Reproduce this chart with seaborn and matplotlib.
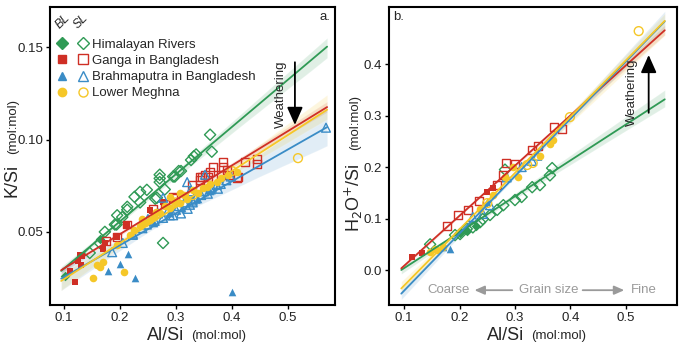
import numpy as np
import pandas as pd
import matplotlib
matplotlib.use("Agg")
import matplotlib.pyplot as plt
from matplotlib.lines import Line2D
from matplotlib.legend_handler import HandlerTuple
import seaborn as sns

# ---- panel a : K/Si vs Al/Si ----
him_bl_a_x = [0.102, 0.165]
him_bl_a_y = [0.026, 0.046]
him_sl_a_x = [0.146, 0.164, 0.173, 0.191, 0.194, 0.195, 0.204, 0.213, 0.213, 0.226, 0.236, 0.236, 0.248,
              0.263, 0.266, 0.271, 0.271, 0.271, 0.280, 0.277, 0.295, 0.298, 0.305, 0.309, 0.327, 0.332,
              0.336, 0.361, 0.364]
him_sl_a_y = [0.0386, 0.044, 0.050, 0.054, 0.054, 0.059, 0.058, 0.062, 0.0636, 0.069, 0.066, 0.0717, 0.0728,
              0.068, 0.0685, 0.077, 0.079, 0.081, 0.073, 0.044, 0.080, 0.080, 0.083, 0.083, 0.089, 0.091,
              0.092, 0.1027, 0.0935]

gan_bl_a_x = [0.111, 0.120, 0.125, 0.129, 0.130, 0.132, 0.170, 0.173, 0.195, 0.213, 0.254, 0.277]
gan_bl_a_y = [0.029, 0.023, 0.034, 0.0375, 0.032, 0.037, 0.041, 0.044, 0.047, 0.054, 0.062, 0.066]
gan_sl_a_x = [0.175, 0.194, 0.213, 0.259, 0.280, 0.295, 0.298, 0.329, 0.343, 0.343, 0.346, 0.352, 0.357,
              0.361, 0.366, 0.380, 0.384, 0.384, 0.391, 0.394, 0.409, 0.411, 0.423, 0.445, 0.445]
gan_sl_a_y = [0.045, 0.047, 0.054, 0.0625, 0.065, 0.069, 0.0685, 0.0755, 0.078, 0.080, 0.080, 0.081, 0.080,
              0.0826, 0.085, 0.081, 0.088, 0.0853, 0.0837, 0.081, 0.079, 0.080, 0.088, 0.0897, 0.087]

bra_bl_a_x = [0.179, 0.200, 0.214, 0.226, 0.400, 0.260, 0.290, 0.310, 0.340, 0.360]
bra_bl_a_y = [0.0288, 0.0325, 0.038, 0.025, 0.0174, 0.055, 0.060, 0.063, 0.068, 0.072]
bra_sl_a_x = [0.186, 0.205, 0.223, 0.223, 0.248, 0.277, 0.277, 0.289, 0.295, 0.309, 0.320, 0.321, 0.325,
              0.325, 0.330, 0.330, 0.352, 0.357, 0.364, 0.373, 0.375, 0.568, 0.240, 0.250, 0.262,
              0.268, 0.285, 0.300, 0.305, 0.315, 0.335, 0.345, 0.350, 0.362, 0.380, 0.390, 0.398]
bra_sl_a_y = [0.039, 0.044, 0.0484, 0.049, 0.054, 0.0576, 0.0685, 0.059, 0.059, 0.060, 0.077, 0.0625, 0.0647,
              0.072, 0.066, 0.067, 0.081, 0.0707, 0.074, 0.0755, 0.0734, 0.1065, 0.052, 0.057, 0.056,
              0.060, 0.061, 0.062, 0.064, 0.066, 0.068, 0.070, 0.072, 0.073, 0.076, 0.078, 0.080]

meg_bl_a_x = [0.152, 0.159, 0.164, 0.170, 0.207, 0.195, 0.218, 0.236, 0.254, 0.271, 0.289, 0.289, 0.307,
              0.307, 0.330, 0.355, 0.373, 0.393, 0.409, 0.240, 0.260, 0.280, 0.320, 0.340, 0.360, 0.380,
              0.225, 0.245, 0.265, 0.298, 0.315, 0.348]
meg_bl_a_y = [0.025, 0.032, 0.031, 0.0337, 0.028, 0.043, 0.0484, 0.053, 0.0565, 0.0603, 0.063, 0.069, 0.0658,
              0.071, 0.0728, 0.0745, 0.077, 0.081, 0.0826, 0.057, 0.058, 0.064, 0.068, 0.071, 0.076, 0.079,
              0.051, 0.055, 0.061, 0.066, 0.070, 0.074]
meg_sl_a_x = [0.518, 0.300, 0.330, 0.400]
meg_sl_a_y = [0.090, 0.066, 0.070, 0.083]

# ---- panel b : H2O+/Si vs Al/Si ----
him_bl_b_x = [0.200, 0.213, 0.230]
him_bl_b_y = [0.072, 0.076, 0.085]
him_sl_b_x = [0.147, 0.192, 0.201, 0.213, 0.224, 0.237, 0.242, 0.255, 0.268, 0.279, 0.300, 0.312, 0.331,
              0.345, 0.363, 0.367, 0.282]
him_sl_b_y = [0.050, 0.068, 0.070, 0.080, 0.083, 0.093, 0.099, 0.107, 0.117, 0.126, 0.136, 0.142, 0.161,
              0.165, 0.184, 0.198, 0.195]

gan_bl_b_x = [0.114, 0.132, 0.250, 0.260]
gan_bl_b_y = [0.025, 0.033, 0.151, 0.159]
gan_sl_b_x = [0.177, 0.197, 0.215, 0.235, 0.268, 0.278, 0.284, 0.300, 0.331, 0.341, 0.370, 0.385]
gan_sl_b_y = [0.0854, 0.107, 0.1165, 0.135, 0.165, 0.184, 0.208, 0.206, 0.233, 0.241, 0.278, 0.274]

bra_bl_b_x = [0.183, 0.250, 0.170]
bra_bl_b_y = [0.041, 0.132, 0.045]
bra_sl_b_x = [0.224, 0.242, 0.255, 0.285, 0.312, 0.331, 0.340]
bra_sl_b_y = [0.103, 0.109, 0.126, 0.180, 0.200, 0.212, 0.222]

meg_bl_b_x = [0.147, 0.155, 0.159, 0.170, 0.237, 0.261, 0.282, 0.297, 0.363, 0.369, 0.305, 0.345]
meg_bl_b_y = [0.035, 0.040, 0.039, 0.045, 0.118, 0.145, 0.180, 0.200, 0.245, 0.252, 0.180, 0.222]
meg_sl_b_x = [0.322, 0.332, 0.399, 0.523, 0.250]
meg_sl_b_y = [0.204, 0.208, 0.297, 0.464, 0.130]

labels = ["Himalayan Rivers", "Ganga in Bangladesh", "Brahmaputra in Bangladesh", "Lower Meghna"]
colors = ["#2f9a55", "#cf2f25", "#3a8cc6", "#f5c728"]
markers = ["D", "s", "^", "o"]
fit_range = (0.095, 0.57)

sns.set_theme(style="ticks")
plt.rcParams['font.family'] = ['Liberation Sans', 'DejaVu Sans']

fig = plt.figure(figsize=(6.79, 3.44), dpi=100)
ax1 = fig.add_axes([0.0736, 0.113, 0.4197, 0.867])
ax2 = fig.add_axes([0.573, 0.113, 0.424, 0.867])

panel_a = [(him_bl_a_x, him_bl_a_y, him_sl_a_x, him_sl_a_y),
           (gan_bl_a_x, gan_bl_a_y, gan_sl_a_x, gan_sl_a_y),
           (bra_bl_a_x, bra_bl_a_y, bra_sl_a_x, bra_sl_a_y),
           (meg_bl_a_x, meg_bl_a_y, meg_sl_a_x, meg_sl_a_y)]
panel_b = [(him_bl_b_x, him_bl_b_y, him_sl_b_x, him_sl_b_y),
           (gan_bl_b_x, gan_bl_b_y, gan_sl_b_x, gan_sl_b_y),
           (bra_bl_b_x, bra_bl_b_y, bra_sl_b_x, bra_sl_b_y),
           (meg_bl_b_x, meg_bl_b_y, meg_sl_b_x, meg_sl_b_y)]

sizes = {"D": 24, "s": 24, "^": 30, "o": 30}


def draw_panel(ax, groups, xlim, ylim):
    # regression lines span the same Al/Si range in both panels
    ax.set_xlim(fit_range)
    for (bx, by, sx, sy), c, m in zip(groups, colors, markers):
        ax.scatter(bx, by, marker=m, s=sizes[m], color=c, linewidths=0, zorder=2)
        ax.scatter(sx, sy, marker=m, s=sizes[m] * 1.35, facecolors="none", edgecolors=c,
                   linewidths=1.0, zorder=2)
    for (bx, by, sx, sy), c in zip(groups, colors):
        df = pd.DataFrame({"x": bx + sx, "y": by + sy})
        sns.regplot(data=df, x="x", y="y", scatter=False, ci=75, seed=3, truncate=False,
                    color=c, line_kws={"lw": 1.3, "zorder": 3}, ax=ax)
    ax.set_xlim(xlim)
    ax.set_ylim(ylim)
    ax.set_xlabel("")
    ax.set_ylabel("")
    ax.set_xticks([0.1, 0.2, 0.3, 0.4, 0.5])
    ax.tick_params(labelsize=9.5, length=3, width=1, pad=2, color="black", labelcolor="#222222")
    for sp in ax.spines.values():
        sp.set_linewidth(1.5)
        sp.set_color("black")
        sp.set_visible(True)


draw_panel(ax1, panel_a, (0.075, 0.584), (0.0103, 0.172))
ax1.set_yticks([0.05, 0.10, 0.15])
ax1.set_yticklabels(["0.05", "0.10", "0.15"])
draw_panel(ax2, panel_b, (0.073, 0.592), (-0.068, 0.511))
ax2.set_yticks([0.0, 0.1, 0.2, 0.3, 0.4])

# legend with filled (BL) and open (SL) markers
handles = []
for c, m in zip(colors, markers):
    filled = Line2D([], [], marker=m, color=c, ls="none", markersize=6)
    hollow = Line2D([], [], marker=m, markerfacecolor="none", markeredgecolor=c, ls="none",
                    markersize=6.5, markeredgewidth=1)
    handles.append((filled, hollow))
ax1.legend(handles, labels, handler_map={tuple: HandlerTuple(ndivide=None, pad=0.9)},
           loc="upper left", bbox_to_anchor=(0.0, 0.92), frameon=False, fontsize=9.5,
           handlelength=2.2, handletextpad=0.35, labelspacing=0.3, borderaxespad=0.2)
ax1.text(0.045, 0.95, "BL", transform=ax1.transAxes, rotation=45, fontsize=9, style="italic",
         ha="center", va="center")
ax1.text(0.11, 0.95, "SL", transform=ax1.transAxes, rotation=45, fontsize=9, style="italic",
         ha="center", va="center")
ax1.text(0.985, 0.985, "a.", transform=ax1.transAxes, ha="right", va="top", fontsize=9.5)
ax2.text(0.015, 0.985, "b.", transform=ax2.transAxes, ha="left", va="top", fontsize=9.5)

# weathering arrows
ax1.annotate("", xy=(0.5125, 0.1065), xytext=(0.5125, 0.1435),
             arrowprops=dict(arrowstyle="-|>,head_length=0.9,head_width=0.4", color="black", lw=1.3))
ax1.text(0.4875, 0.1245, "Weathering", rotation=90, ha="center", va="center", fontsize=9.5)
ax2.annotate("", xy=(0.541, 0.423), xytext=(0.541, 0.30),
             arrowprops=dict(arrowstyle="-|>,head_length=0.9,head_width=0.4", color="black", lw=1.3))
ax2.text(0.511, 0.346, "Weathering", rotation=90, ha="center", va="center", fontsize=9.5)

# grain size annotation
gray = "#9a9a9a"
ax2.text(0.181, -0.039, "Coarse", color=gray, fontsize=9.5, ha="center", va="center")
ax2.text(0.36, -0.039, "Grain size", color=gray, fontsize=9.5, ha="center", va="center")
ax2.text(0.532, -0.039, "Fine", color=gray, fontsize=9.5, ha="center", va="center")
ax2.annotate("", xy=(0.222, -0.039), xytext=(0.30, -0.039),
             arrowprops=dict(arrowstyle="-|>,head_length=0.5,head_width=0.22", color=gray, lw=1.3))
ax2.annotate("", xy=(0.502, -0.039), xytext=(0.417, -0.039),
             arrowprops=dict(arrowstyle="-|>,head_length=0.5,head_width=0.22", color=gray, lw=1.3))

# axis labels (large name + small units)
fig.text(12 / 679, 1 - 180 / 344, "K/Si", rotation=90, fontsize=13, ha="center", va="center")
fig.text(13 / 679, 1 - 126 / 344, "(mol:mol)", rotation=90, fontsize=9.5, ha="center", va="center")
fig.text(354 / 679, 1 - 198 / 344, "H$_2$O$^{+}$/Si", rotation=90, fontsize=13, ha="center", va="center")
fig.text(355 / 679, 1 - 122 / 344, "(mol:mol)", rotation=90, fontsize=9.5, ha="center", va="center")
fig.text(166 / 679, 1 - 335 / 344, "Al/Si", fontsize=13, ha="center", va="center")
fig.text(219 / 679, 1 - 336 / 344, "(mol:mol)", fontsize=9.5, ha="center", va="center")
fig.text(506 / 679, 1 - 335 / 344, "Al/Si", fontsize=13, ha="center", va="center")
fig.text(559 / 679, 1 - 336 / 344, "(mol:mol)", fontsize=9.5, ha="center", va="center")

fig.savefig("out.png", dpi=100)
